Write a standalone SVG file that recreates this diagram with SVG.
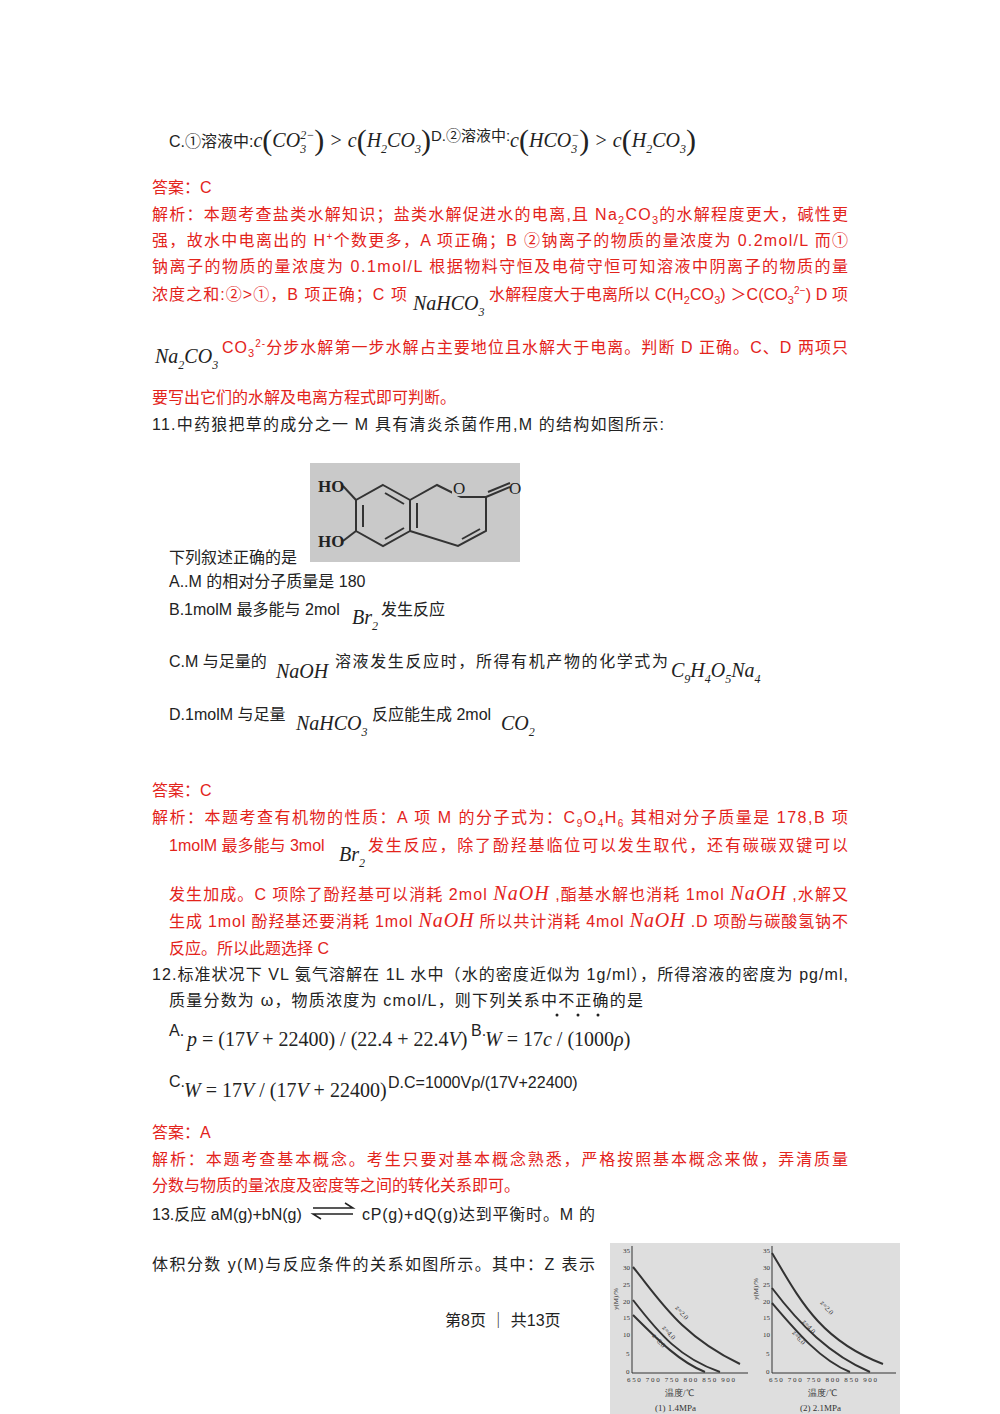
<svg xmlns="http://www.w3.org/2000/svg" width="1000" height="1414" viewBox="0 0 1000 1414">
<style>
text{font-family:"Liberation Sans","Noto Sans CJK SC",sans-serif;font-size:16px;fill:#222}
.r{fill:#e3231b}
.m{font-family:"Liberation Serif",serif;font-style:italic;font-size:20px}
.s{font-size:12px}
.g{stroke:#333;stroke-width:2;fill:none}
.ax text{font-family:"Liberation Serif",serif;font-size:7px;fill:#333}
.ax text.b{font-size:9px}
</style>
<rect width="1000" height="1414" fill="#fff"/>
<g id="q10">
<text x="169" y="147">C.①溶液中:<tspan class="m">c</tspan><tspan font-family="Liberation Serif" font-size="30" dy="3">(</tspan><tspan class="m" dy="-3">CO</tspan><tspan class="m s" dy="6">3</tspan><tspan class="m s" dy="-14" dx="-6">2−</tspan><tspan font-family="Liberation Serif" font-size="30" dy="11">)</tspan><tspan class="m" font-style="normal" dy="-3"> &gt; </tspan><tspan class="m">c</tspan><tspan font-family="Liberation Serif" font-size="30" dy="3">(</tspan><tspan class="m" dy="-3">H</tspan><tspan class="m s" dy="6">2</tspan><tspan class="m" dy="-6">CO</tspan><tspan class="m s" dy="6">3</tspan><tspan font-family="Liberation Serif" font-size="30" dy="-3">)</tspan><tspan font-size="15" dy="-9">D.②溶液中:</tspan><tspan class="m" dy="6">c</tspan><tspan font-family="Liberation Serif" font-size="30" dy="3">(</tspan><tspan class="m" dy="-3">HCO</tspan><tspan class="m s" dy="6">3</tspan><tspan class="m s" dy="-14" dx="-6">−</tspan><tspan font-family="Liberation Serif" font-size="30" dy="11">)</tspan><tspan class="m" font-style="normal" dy="-3"> &gt; </tspan><tspan class="m">c</tspan><tspan font-family="Liberation Serif" font-size="30" dy="3">(</tspan><tspan class="m" dy="-3">H</tspan><tspan class="m s" dy="6">2</tspan><tspan class="m" dy="-6">CO</tspan><tspan class="m s" dy="6">3</tspan><tspan font-family="Liberation Serif" font-size="30" dy="-3">)</tspan></text>
<text class="r" x="152" y="193">答案：C</text>
<text class="r" x="152" y="220" textLength="696">解析：本题考查盐类水解知识；盐类水解促进水的电离,且 Na<tspan dy="4" font-size="11">2</tspan><tspan dy="-4">CO</tspan><tspan dy="4" font-size="11">3</tspan><tspan dy="-4">的水解程度更大，碱性更</tspan></text>
<text class="r" x="152" y="246" textLength="696">强，故水中电离出的 H<tspan dy="-6" font-size="10">+</tspan><tspan dy="6">个数更多，A 项正确；B ②钠离子的物质的量浓度为 0.2mol/L 而①</tspan></text>
<text class="r" x="152" y="272" textLength="696">钠离子的物质的量浓度为 0.1mol/L 根据物料守恒及电荷守恒可知溶液中阴离子的物质的量</text>
<text class="r" x="152" y="300" textLength="255">浓度之和:②&gt;①，B 项正确；C 项</text>
<text x="413" y="310"><tspan class="m">NaHCO</tspan><tspan class="m s" dy="6">3</tspan></text>
<text class="r" x="489" y="300" textLength="359">水解程度大于电离所以 C(H<tspan dy="4" font-size="11">2</tspan><tspan dy="-4">CO</tspan><tspan dy="4" font-size="11">3</tspan><tspan dy="-4">) ＞C(CO</tspan><tspan dy="4" font-size="11">3</tspan><tspan dy="-10" font-size="10">2−</tspan><tspan dy="6">) D 项</tspan></text>
<text x="155" y="363"><tspan class="m">Na</tspan><tspan class="m s" dy="6">2</tspan><tspan class="m" dy="-6">CO</tspan><tspan class="m s" dy="6">3</tspan></text>
<text class="r" x="222" y="353" textLength="626">CO<tspan dy="4" font-size="11">3</tspan><tspan dy="-10" font-size="10">2-</tspan><tspan dy="6">分步水解第一步水解占主要地位且水解大于电离。判断 D 正确。C、D 两项只</tspan></text>
<text class="r" x="152" y="403">要写出它们的水解及电离方程式即可判断。</text>
</g>
<g id="q11">
<text x="152" y="430" textLength="512">11.中药狼把草的成分之一 M 具有清炎杀菌作用,M 的结构如图所示:</text>
<g id="structure">
<rect x="310" y="463" width="210" height="99" fill="#c9c9c9"/>
<g stroke="#333" stroke-width="2" fill="none">
<polygon points="383,485 410,500 410,531 383,546 356,531 356,500"/>
<polygon points="410,500 437,485 461,497 486,497 486,531 458,546 410,531" />
<line x1="363" y1="505" x2="363" y2="527"/><line x1="385" y1="493" x2="404" y2="504"/><line x1="385" y1="539" x2="404" y2="528"/>
<line x1="417" y1="503" x2="417" y2="528"/>
<line x1="462" y1="539" x2="480" y2="529"/>
<line x1="486" y1="497" x2="510" y2="487"/><line x1="488" y1="492" x2="510" y2="483"/>
<line x1="343" y1="486" x2="356" y2="500"/><line x1="343" y1="541" x2="356" y2="531"/>
</g>
<rect x="452" y="480" width="14" height="16" fill="#c9c9c9"/>
<text x="453" y="494" style="font-family:'Liberation Serif',serif;font-size:17px">O</text>
<text x="509" y="494" style="font-family:'Liberation Serif',serif;font-size:17px">O</text>
<text x="318" y="492" style="font-family:'Liberation Serif',serif;font-size:17px;font-weight:bold">HO</text>
<text x="318" y="547" style="font-family:'Liberation Serif',serif;font-size:17px;font-weight:bold">HO</text>
</g>
<text x="169" y="563">下列叙述正确的是</text>
<text x="169" y="587">A..M 的相对分子质量是 180</text>
<text x="169" y="615">B.1molM 最多能与 2mol</text>
<text x="352" y="624"><tspan class="m">Br</tspan><tspan class="m s" dy="6">2</tspan></text>
<text x="381" y="615">发生反应</text>
<text x="169" y="667">C.M 与足量的</text>
<text x="276" y="678" class="m">NaOH</text>
<text x="335" y="667" textLength="333">溶液发生反应时，所得有机产物的化学式为</text>
<text x="671" y="677"><tspan class="m">C</tspan><tspan class="m s" dy="6">9</tspan><tspan class="m" dy="-6">H</tspan><tspan class="m s" dy="6">4</tspan><tspan class="m" dy="-6">O</tspan><tspan class="m s" dy="6">5</tspan><tspan class="m" dy="-6">Na</tspan><tspan class="m s" dy="6">4</tspan></text>
<text x="169" y="720">D.1molM 与足量</text>
<text x="296" y="730"><tspan class="m">NaHCO</tspan><tspan class="m s" dy="6">3</tspan></text>
<text x="372" y="720">反应能生成 2mol</text>
<text x="501" y="730"><tspan class="m">CO</tspan><tspan class="m s" dy="6">2</tspan></text>
<text class="r" x="152" y="796">答案：C</text>
<text class="r" x="152" y="823" textLength="696">解析：本题考查有机物的性质：A 项 M 的分子式为：C<tspan dy="4" font-size="10">9</tspan><tspan dy="-4">O</tspan><tspan dy="4" font-size="10">4</tspan><tspan dy="-4">H</tspan><tspan dy="4" font-size="10">6</tspan><tspan dy="-4"> 其相对分子质量是 178,B 项</tspan></text>
<text class="r" x="169" y="851">1molM 最多能与 3mol</text>
<text x="339" y="861"><tspan class="m">Br</tspan><tspan class="m s" dy="6">2</tspan></text>
<text class="r" x="368" y="851" textLength="480">发生反应，除了酚羟基临位可以发生取代，还有碳碳双键可以</text>
<text class="r" x="169" y="900" textLength="679">发生加成。C 项除了酚羟基可以消耗 2mol <tspan class="m" style="fill:#e3231b" font-size="19">NaOH</tspan> ,酯基水解也消耗 1mol <tspan class="m" style="fill:#e3231b" font-size="19">NaOH</tspan> ,水解又</text>
<text class="r" x="169" y="927" textLength="679">生成 1mol 酚羟基还要消耗 1mol <tspan class="m" style="fill:#e3231b" font-size="19">NaOH</tspan> 所以共计消耗 4mol <tspan class="m" style="fill:#e3231b" font-size="19">NaOH</tspan> .D 项酚与碳酸氢钠不</text>
<text class="r" x="169" y="954">反应。所以此题选择 C</text>
</g>
<g id="q12">
<text x="152" y="980" textLength="696">12.标准状况下 VL 氨气溶解在 1L 水中（水的密度近似为 1g/ml），所得溶液的密度为 pg/ml,</text>
<text x="169" y="1006" textLength="474">质量分数为 ω，物质浓度为 cmol/L，则下列关系中不正确的是</text>
<circle cx="557" cy="1015" r="1.5" fill="#222"/><circle cx="578" cy="1015" r="1.5" fill="#222"/><circle cx="598" cy="1015" r="1.5" fill="#222"/>
<text x="169" y="1036" font-size="13">A.</text>
<text x="187" y="1046" class="m">p <tspan font-style="normal">= (17</tspan>V<tspan font-style="normal"> + 22400) / (22.4 + 22.4</tspan>V<tspan font-style="normal">)</tspan></text>
<text x="471" y="1036" font-size="13">B.</text>
<text x="485" y="1046" class="m">W <tspan font-style="normal">= 17</tspan>c<tspan font-style="normal"> / (1000</tspan>ρ<tspan font-style="normal">)</tspan></text>
<text x="169" y="1087" font-size="13">C.</text>
<text x="184" y="1097" class="m">W <tspan font-style="normal">= 17</tspan>V<tspan font-style="normal"> / (17</tspan>V<tspan font-style="normal"> + 22400)</tspan></text>
<text x="388" y="1088" font-size="14">D.C=1000Vρ/(17V+22400)</text>
<text class="r" x="152" y="1138">答案：A</text>
<text class="r" x="152" y="1165" textLength="696">解析：本题考查基本概念。考生只要对基本概念熟悉，严格按照基本概念来做，弄清质量</text>
<text class="r" x="152" y="1191">分数与物质的量浓度及密度等之间的转化关系即可。</text>
</g>
<g id="q13">
<text x="152" y="1220">13.反应 aM(g)+bN(g)</text>
<g stroke="#222" stroke-width="1.5" fill="none"><path d="M313,1208 H353 L345,1203"/><path d="M353,1214 H313 L321,1219"/></g>
<text x="362" y="1220" textLength="233">cP(g)+dQ(g)达到平衡时。M 的</text>
<text x="152" y="1270" textLength="443">体积分数 y(M)与反应条件的关系如图所示。其中：Z 表示</text>
<g id="graph">
<rect x="610" y="1243" width="290" height="171" fill="#dedede"/>
<g stroke="#333" stroke-width="1" fill="none">
<path d="M632,1246 V1373 H748"/><path d="M772,1246 V1373 H896"/>
</g>
<path class="g" d="M633,1267 C660,1300 680,1335 740,1364"/>
<path class="g" d="M633,1300 C660,1335 680,1358 720,1372"/>
<path class="g" d="M633,1315 C660,1342 680,1362 705,1372"/>
<path class="g" d="M772,1253 C800,1300 820,1340 883,1364"/>
<path class="g" d="M772,1288 C800,1325 830,1355 870,1372"/>
<path class="g" d="M772,1303 C795,1330 820,1360 850,1372"/>
<g class="ax"><text x="623" y="1253">35</text><text x="623" y="1270">30</text><text x="623" y="1287">25</text><text x="623" y="1304">20</text><text x="623" y="1320">15</text><text x="623" y="1337">10</text><text x="626" y="1356">5</text><text x="626" y="1374">0</text>
<text x="763" y="1253">35</text><text x="763" y="1270">30</text><text x="763" y="1287">25</text><text x="763" y="1304">20</text><text x="763" y="1320">15</text><text x="763" y="1337">10</text><text x="766" y="1356">5</text><text x="766" y="1374">0</text>
<text x="627" y="1382" textLength="108">650 700 750 800 850 900</text><text x="769" y="1382" textLength="108">650 700 750 800 850 900</text>
<text x="675" y="1308" transform="rotate(50 675 1308)">z=2.0</text><text x="662" y="1328" transform="rotate(50 662 1328)">z=4.0</text><text x="652" y="1336" transform="rotate(50 652 1336)">z=6.0</text>
<text x="820" y="1303" transform="rotate(50 820 1303)">z=2.0</text><text x="802" y="1322" transform="rotate(50 802 1322)">z=4.0</text><text x="792" y="1333" transform="rotate(50 792 1333)">z=6.0</text>
<text x="618" y="1310" transform="rotate(-90 618 1310)">y(M)/%</text><text x="758" y="1300" transform="rotate(-90 758 1300)">y(M)/%</text>
<text class="b" x="665" y="1396">温度/℃</text><text class="b" x="808" y="1396">温度/℃</text>
<text class="b" x="655" y="1411">(1) 1.4MPa</text><text class="b" x="800" y="1411">(2) 2.1MPa</text></g>
</g>
</g>
<g id="footer"><text x="445" y="1326">第8页 ｜ 共13页</text></g>
</svg>
